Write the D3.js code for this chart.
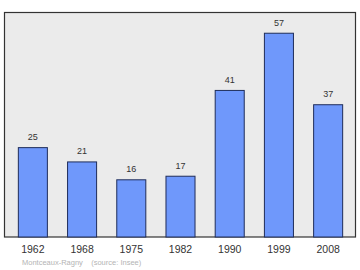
<!DOCTYPE html>
<html>
<head>
<meta charset="utf-8">
<script src="https://cdn.jsdelivr.net/npm/d3@7"></script>
<style>
  body { margin: 0; background: #fff; }
  svg { display: block; }
</style>
</head>
<body>
<script>
const years = ['1962', '1968', '1975', '1982', '1990', '1999', '2008'];
const population = [25, 21, 16, 17, 41, 57, 37];
const sourceNote = 'Montceaux-Ragny    (source: Insee)';

const width = 360, height = 270;
const frame = { left: 4.5, top: 12.5, right: 355.5, bottom: 237 };
const font = 'Liberation Sans, Arial, sans-serif';

const svg = d3.select('body').append('svg')
  .attr('width', width)
  .attr('height', height);

// plot background + frame
svg.append('rect')
  .attr('x', frame.left)
  .attr('y', frame.top)
  .attr('width', frame.right - frame.left)
  .attr('height', frame.bottom - frame.top)
  .attr('fill', '#ebebeb')
  .attr('stroke', '#333')
  .attr('stroke-width', 1.2);

const x = d3.scaleBand()
  .domain(years)
  .range([8.5, 352.5])
  .paddingInner(0.41)
  .paddingOuter(0.2);

const y = d3.scaleLinear()
  .domain([0, 62.8])
  .range([frame.bottom, frame.top]);

svg.selectAll('rect.bar')
  .data(population)
  .enter()
  .append('rect')
  .attr('class', 'bar')
  .attr('x', (d, i) => x(years[i]))
  .attr('y', d => y(d))
  .attr('width', x.bandwidth())
  .attr('height', d => y(0) - y(d))
  .attr('fill', '#6f98fb')
  .attr('stroke', '#1f2d5a')
  .attr('stroke-width', 1);

// value labels
svg.selectAll('text.val')
  .data(population)
  .enter()
  .append('text')
  .attr('class', 'val')
  .attr('x', (d, i) => x(years[i]) + x.bandwidth() / 2)
  .attr('y', d => y(d) - 7.5)
  .attr('text-anchor', 'middle')
  .attr('font-family', font)
  .attr('font-size', 9)
  .attr('fill', '#333')
  .text(d => d);

// x axis labels
const xAxis = d3.axisBottom(x).tickSize(0).tickPadding(9);
const gx = svg.append('g')
  .attr('transform', `translate(0,${frame.bottom})`)
  .call(xAxis);
gx.select('.domain').remove();
gx.selectAll('text')
  .attr('font-family', font)
  .attr('font-size', 10.5)
  .attr('fill', '#333');

svg.append('text')
  .attr('x', 22)
  .attr('y', 265)
  .attr('font-family', font)
  .attr('font-size', 7.5)
  .attr('fill', '#b4b4b4')
  .attr('xml:space', 'preserve')
  .text(sourceNote);
</script>
</body>
</html>
